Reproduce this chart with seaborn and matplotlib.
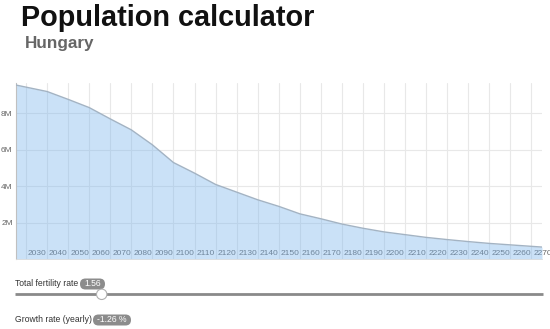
import matplotlib
matplotlib.use("Agg")
import matplotlib.pyplot as plt
import matplotlib.transforms as mtransforms
from matplotlib.patches import FancyBboxPatch, Circle
from matplotlib.ticker import FuncFormatter
import seaborn as sns
import pandas as pd

# ---- data ----
years = [2025, 2030, 2040, 2050, 2060, 2070, 2080, 2090, 2100, 2110, 2120,
         2130, 2140, 2150, 2160, 2170, 2180, 2190, 2200, 2210, 2220, 2230,
         2240, 2250, 2260, 2270, 2275]
population_m = [9.55, 9.43, 9.19, 8.76, 8.31, 7.69, 7.09, 6.27, 5.30, 4.72,
                4.10, 3.68, 3.26, 2.90, 2.49, 2.22, 1.93, 1.70, 1.50, 1.35,
                1.20, 1.08, 0.97, 0.87, 0.79, 0.71, 0.67]
x_ticks = list(range(2030, 2271, 10))
y_ticks_m = [2, 4, 6, 8]
title = "Population calculator"
subtitle = "Hungary"
slider_label = "Total fertility rate"
slider_value = "1.56"
growth_label = "Growth rate (yearly)"
growth_value = "-1.26 %"

df = pd.DataFrame({"year": years, "population": [p * 1e6 for p in population_m]})

sns.set_style("white")
plt.rcParams['font.family'] = ['Liberation Sans', 'DejaVu Sans']

W, H = 550, 329
fig = plt.figure(figsize=(W / 100, H / 100), dpi=100)

# main chart axes (pixel placement)
left, right, top, bottom = 15.5, 542, 83.3, 259.3
ax = fig.add_axes([left / W, 1 - bottom / H, (right - left) / W, (bottom - top) / H])

ax.fill_between(df["year"], df["population"], 0, color="#7cb5ec", alpha=0.4, lw=0, zorder=2)
sns.lineplot(data=df, x="year", y="population", ax=ax, color="#a3b3c3", linewidth=1.0, zorder=3)

ax.set_xlim(2025, 2275)
ax.set_ylim(0, 9.64e6)
ax.set_xlabel("")
ax.set_ylabel("")

ax.set_xticks(x_ticks)
ax.set_xticklabels([str(t) for t in x_ticks], ha="left", va="bottom")
ax.set_yticks([v * 1e6 for v in y_ticks_m])
ax.yaxis.set_major_formatter(FuncFormatter(lambda v, p: f"{int(round(v / 1e6))}M"))

ax.tick_params(axis="x", length=0, pad=-1.5, labelsize=6, labelcolor="#666666")
ax.tick_params(axis="y", length=0, pad=2, labelsize=6, labelcolor="#666666")
offset = mtransforms.ScaledTranslation(2 / 100, 0, fig.dpi_scale_trans)
for lab in ax.get_xticklabels():
    lab.set_transform(lab.get_transform() + offset)
    lab.set_zorder(5)
    lab.set_clip_on(False)

ax.grid(True, color="#e8e8e8", linewidth=0.8, zorder=1)
ax.set_axisbelow(True)
for s in ["top", "right"]:
    ax.spines[s].set_visible(False)
ax.spines["left"].set_color("#c0c0c0")
ax.spines["left"].set_linewidth(0.8)
ax.spines["bottom"].set_color("#dddddd")
ax.spines["bottom"].set_linewidth(0.6)

# overlay axes in pixel coordinates for header and controls
ov = fig.add_axes([0, 0, 1, 1], zorder=-1)
ov.set_xlim(0, W)
ov.set_ylim(H, 0)
ov.axis("off")

ov.text(21, 25.5, title, fontsize=20.8, fontweight="bold", color="#111111", va="baseline", ha="left")
ov.text(25, 48.3, subtitle, fontsize=12.3, fontweight="bold", color="#666666", va="baseline", ha="left")

# slider row
ov.text(15, 284, slider_label, fontsize=6.2, color="#333333", va="center", ha="left")
ov.add_patch(FancyBboxPatch((80, 278.5), 25, 11, boxstyle="round,pad=0,rounding_size=5.5",
                            fc="#8c8c8c", ec="none"))
ov.text(92.5, 284, slider_value, fontsize=6.2, color="white", va="center", ha="center")
ov.plot([15, 543], [294.3, 294.3], color="#8a8a8a", lw=2, solid_capstyle="butt")
ov.add_patch(Circle((101.7, 294.3), 5.2, fc="white", ec="#b0b0b0", lw=0.8, zorder=5))

# growth row
ov.text(15, 320, growth_label, fontsize=6.2, color="#333333", va="center", ha="left")
ov.add_patch(FancyBboxPatch((93, 314.5), 38, 11, boxstyle="round,pad=0,rounding_size=5.5",
                            fc="#8c8c8c", ec="none"))
ov.text(112, 320, growth_value, fontsize=6.2, color="white", va="center", ha="center")

fig.savefig("out.png", dpi=100)
